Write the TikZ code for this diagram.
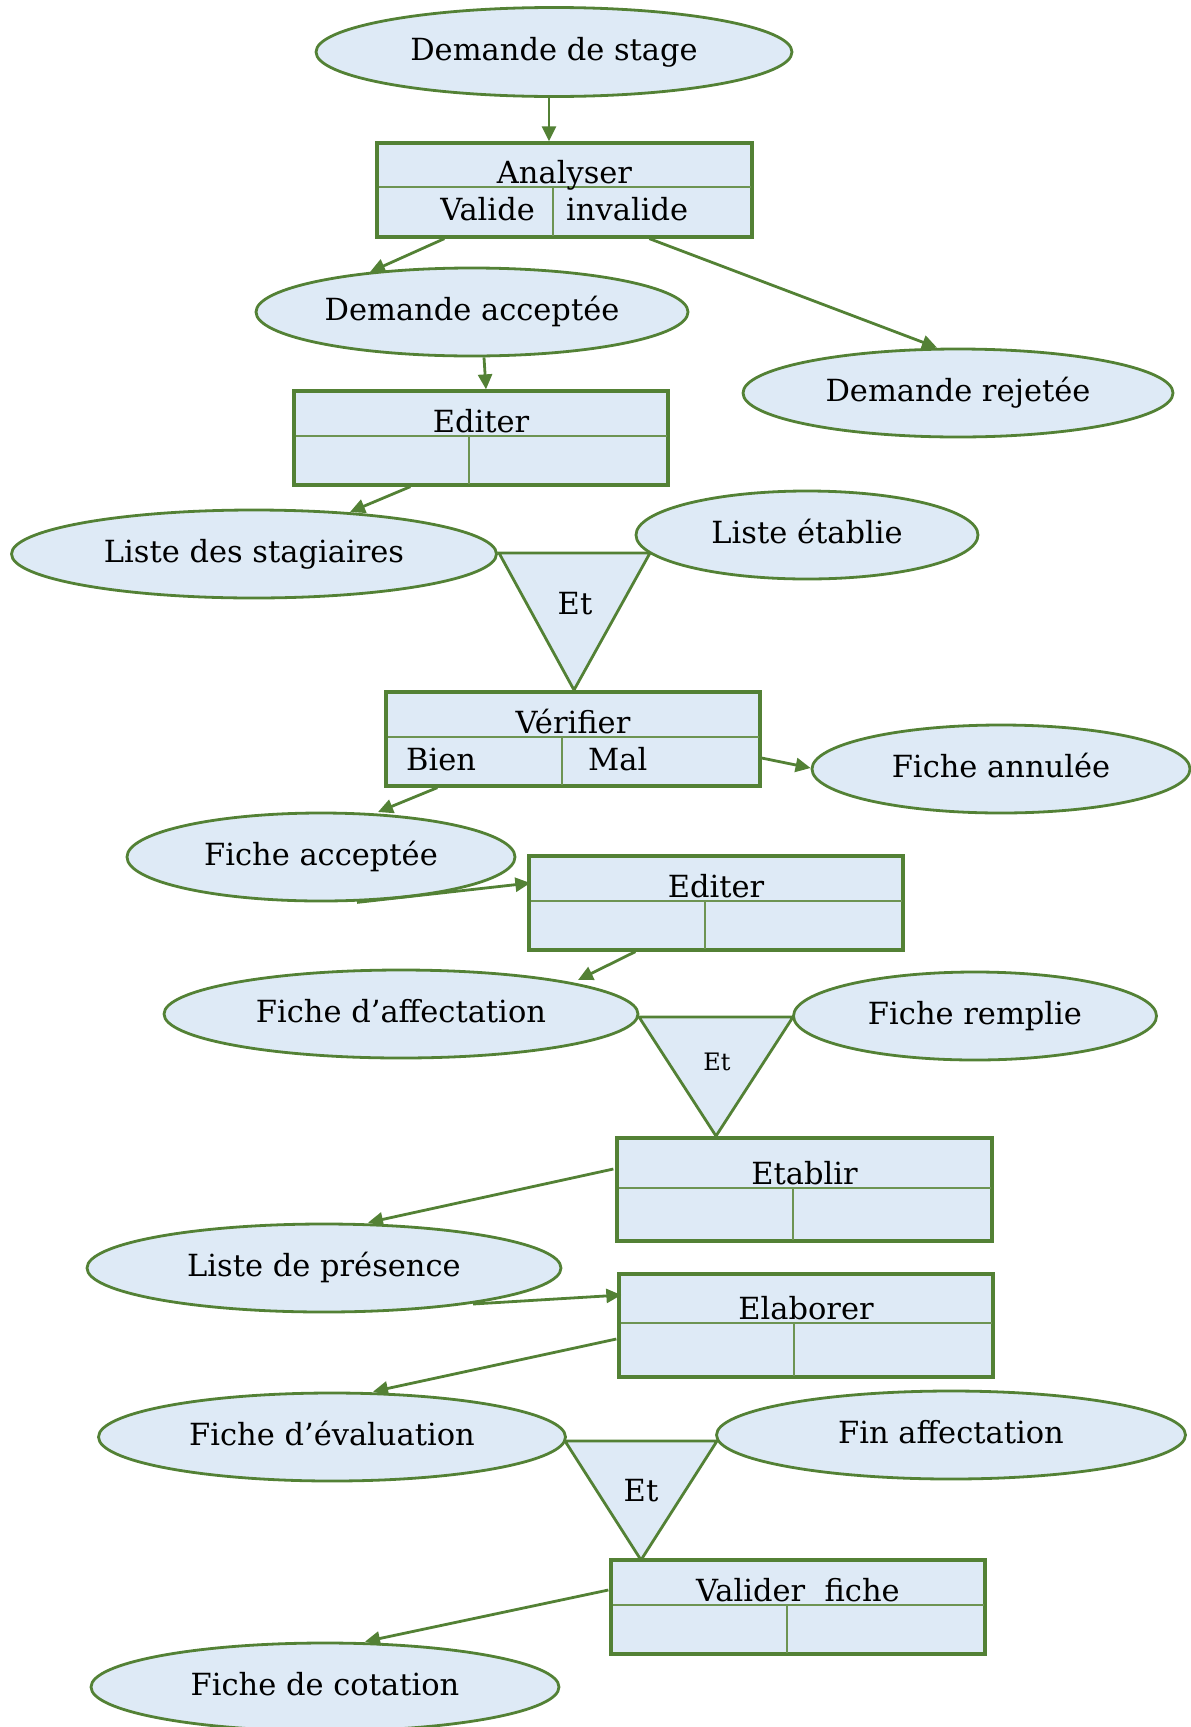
\documentclass[tikz,border=0pt]{standalone}
\usepackage{fontspec}
\setmainfont{DejaVu Serif}
\usetikzlibrary{arrows.meta,shapes.geometric}
\definecolor{gr}{HTML}{538135}
\definecolor{fl}{HTML}{DEEAF6}
\newcommand\pbox[9]{%
  \node[proc, minimum width={#4-#2}, minimum height={#5-#3}] (#1) at ({(#2+#4)/2},{(#3+#5)/2}) {};
  \draw[div] (#2+1.5,#6) -- (#4-1.5,#6);
  \draw[div] (#7,#6) -- (#7,#5-1.5);
  \node[lbl] at ({(#2+#4)/2},#6-4) {#8};
  #9
}
\begin{document}
\begin{tikzpicture}[x=1pt,y=-1pt,
  every node/.style={font=\fontsize{30.5}{36}\selectfont},
  ell/.style={ellipse, draw=gr, fill=fl, line width=2.8pt, inner sep=0, minimum height=88, text height=23, text depth=7},
  proc/.style={rectangle, draw=gr, fill=fl, line width=3.3pt, inner sep=0},
  div/.style={draw=gr!85, line width=1.4pt},
  tri/.style={draw=gr, fill=fl, line width=2.8pt, line join=miter},
  arr/.style={draw=gr, line width=2.8pt, -{Triangle[length=15pt,width=14pt]}},
  lbl/.style={inner sep=0, anchor=base}
]
\useasboundingbox (0,0) rectangle (1191,1727);

% junction triangles
\coordinate (t1a) at (499,553); \coordinate (t1b) at (650,553); \coordinate (t1c) at (574,690);
\draw[tri] (t1a) -- (t1b) -- (t1c) -- cycle;
\node[lbl] (et1) at (575,614) {Et};
\coordinate (t2a) at (639,1017); \coordinate (t2b) at (793,1017); \coordinate (t2c) at (716,1136);
\draw[tri] (t2a) -- (t2b) -- (t2c) -- cycle;
\node[lbl, font=\fontsize{24}{29}\selectfont] (et2) at (717,1070) {Et};
\coordinate (t3a) at (565,1441); \coordinate (t3b) at (717,1441); \coordinate (t3c) at (641,1560);
\draw[tri] (t3a) -- (t3b) -- (t3c) -- cycle;
\node[lbl] (et3) at (641,1501) {Et};

% ellipses
\node[ell, minimum width=476, minimum height=89] (dstage) at (554,52) {Demande de stage};
\node[ell, minimum width=432] (dacc) at (472,312) {Demande acceptée};
\node[ell, minimum width=430] (drej) at (958,393) {Demande rejetée};
\node[ell, minimum width=485] (lstag) at (254,554) {Liste des stagiaires};
\node[ell, minimum width=342] (letab) at (807,535) {Liste établie};
\node[ell, minimum width=378] (fannul) at (1001,769) {Fiche annulée};
\node[ell, minimum width=388] (facc) at (321,857) {Fiche acceptée};
\node[ell, minimum width=474] (faff) at (401,1014) {Fiche d’affectation};
\node[ell, minimum width=363] (frempl) at (975,1016) {Fiche remplie};
\node[ell, minimum width=474] (lpres) at (324,1268) {Liste de présence};
\node[ell, minimum width=467] (feval) at (332,1437) {Fiche d’évaluation};
\node[ell, minimum width=469] (finaff) at (951,1435) {Fin affectation};
\node[ell, minimum width=468] (fcot) at (325,1687) {Fiche de cotation};

% process boxes
\pbox{analyser}{377}{143}{752}{237}{187}{553}{Analyser}{%
  \node[lbl, anchor=base east] at (535,220) {Valide};
  \node[lbl, anchor=base west] at (566,220) {invalide};}
\pbox{editer1}{294}{391}{668}{485}{436}{469}{Editer}{}
\pbox{verifier}{386}{692}{760}{786}{737}{562}{Vérifier}{%
  \node[lbl, anchor=base west] at (406,770) {Bien};
  \node[lbl, anchor=base west] at (588,770) {Mal};}
\pbox{editer2}{529}{856}{903}{950}{901}{705}{Editer}{}
\pbox{etablir}{617}{1138}{992}{1241}{1188}{793}{Etablir}{}
\pbox{elaborer}{619}{1274}{993}{1377}{1323}{794}{Elaborer}{}
\pbox{valider}{611}{1560}{985}{1654}{1605}{787}{Valider\ \ fiche}{}

% connectors
\draw[arr] ([xshift=-5pt]dstage.south) -- ([xshift=-15.5pt]analyser.north);
\draw[arr] ([xshift=69pt]analyser.south west) -- ([xshift=-102pt,yshift=40pt]dacc.center);
\draw[arr] ([xshift=274pt]analyser.south west) -- ([xshift=-21pt]drej.north);
\draw[arr] ([xshift=12pt]dacc.south) -- ([xshift=5pt]editer1.north);
\draw[arr] ([xshift=118pt]editer1.south west) -- ([xshift=96pt,yshift=42pt]lstag.center);
\draw[arr] ([yshift=-19pt]verifier.east) -- ([yshift=1pt]fannul.west);
\draw[arr] ([xshift=53pt]verifier.south west) -- ([xshift=57pt,yshift=45pt]facc.center);
\draw[arr] ([xshift=36pt]facc.south) -- ([xshift=3pt,yshift=20pt]editer2.west);
\draw[arr] ([xshift=108pt]editer2.south west) -- ([xshift=177pt,yshift=34pt]faff.center);
\draw[arr] ([xshift=-2pt,yshift=20.5pt]etablir.west) -- ([xshift=44pt]lpres.north);
\draw[arr] ([xshift=149pt,yshift=-36pt]lpres.center) -- ([xshift=4pt,yshift=30.5pt]elaborer.west);
\draw[arr] ([xshift=-1pt,yshift=-13.5pt]elaborer.west) -- ([xshift=41pt]feval.north);
\draw[arr] ([xshift=-1pt,yshift=17pt]valider.west) -- ([xshift=40pt]fcot.north);
\end{tikzpicture}
\end{document}
